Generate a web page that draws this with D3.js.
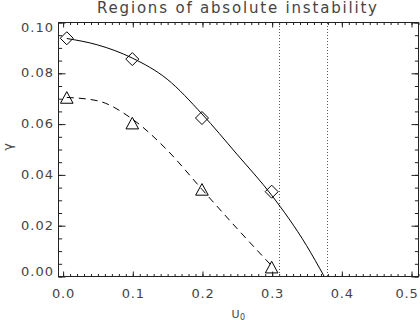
<!DOCTYPE html>
<html><head><meta charset="utf-8">
<script src="https://cdn.jsdelivr.net/npm/d3@7"></script>
<style>html,body{margin:0;padding:0;background:#fff;} svg{display:block;}</style>
</head><body>
<svg id="chart" width="420" height="320"></svg>
<script>
const title = "Regions of absolute instability";
const xLabel = "U";
const xLabelSub = "0";
const yLabel = "γ";
const xTicks = [0, 0.1, 0.2, 0.3, 0.4, 0.5];
const xTickLabels = ["0.0", "0.1", "0.2", "0.3", "0.4", "0.5"];
const yTicks = [0, 0.02, 0.04, 0.06, 0.08, 0.10];
const yTickLabels = ["0.00", "0.02", "0.04", "0.06", "0.08", "0.10"];
const diamondU = [0.006, 0.1, 0.2, 0.3];
const diamondG = [0.0936, 0.0854, 0.0622, 0.0332];
const triangleU = [0.006, 0.1, 0.2, 0.3];
const triangleG = [0.0703, 0.0602, 0.0341, 0.0035];
const solidU = [0.006, 0.05, 0.1, 0.15, 0.2, 0.25, 0.3, 0.35, 0.375];
const solidG = [0.0935, 0.0910, 0.0858, 0.0775, 0.0638, 0.0480, 0.0318, 0.0120, 0.0];
const dashedU = [0.006, 0.05, 0.1, 0.15, 0.2, 0.25, 0.3];
const dashedG = [0.0703, 0.0690, 0.0618, 0.0496, 0.0341, 0.0188, 0.0040];
const verticalU = [0.31, 0.38];

const svg = d3.select("#chart");
const L = 58, R = 418, T = 22, B = 276;
const x = d3.scaleLinear().domain([-0.0066, 0.51]).range([L, R]);
const y = d3.scaleLinear().domain([0, 0.10]).range([B, T]);
const font = "DejaVu Sans, sans-serif";
const txt = "#444";

// frame
svg.append("rect").attr("x", L + 0.5).attr("y", T + 0.5)
  .attr("width", R - L).attr("height", B - T)
  .attr("fill", "none").attr("stroke", "#222").attr("stroke-width", 1);

const xMinor = d3.range(0, 52).map(i => i / 100).filter(v => v <= 0.51);
const yMinor = d3.range(0, 21).map(i => i * 0.005);

function axisG(axis, tx, ty) {
  const g = svg.append("g").attr("transform", `translate(${tx},${ty})`).call(axis);
  g.select(".domain").remove();
  g.selectAll("text").remove();
  g.selectAll("line").attr("stroke", "#222");
  return g;
}
// bottom & top
axisG(d3.axisBottom(x).tickValues(xTicks).tickSize(-5), 0.5, B + 0.5);
axisG(d3.axisBottom(x).tickValues(xMinor).tickSize(-2.5), 0.5, B + 0.5);
axisG(d3.axisTop(x).tickValues(xTicks).tickSize(-5), 0.5, T + 0.5);
axisG(d3.axisTop(x).tickValues(xMinor).tickSize(-2.5), 0.5, T + 0.5);
// left & right
axisG(d3.axisLeft(y).tickValues(yTicks).tickSize(-7), L + 0.5, 0.5);
axisG(d3.axisLeft(y).tickValues(yMinor).tickSize(-3.6), L + 0.5, 0.5);
axisG(d3.axisRight(y).tickValues(yTicks).tickSize(-7), R + 0.5, 0.5);
axisG(d3.axisRight(y).tickValues(yMinor).tickSize(-3.6), R + 0.5, 0.5);

// tick labels
svg.append("g").selectAll("text").data(xTicks).join("text")
  .attr("x", d => Math.min(x(d) + 1, 407)).attr("y", 298)
  .attr("text-anchor", "middle")
  .attr("font-family", font).attr("font-size", 13).attr("letter-spacing", 0.8)
  .attr("fill", txt).text((d, i) => xTickLabels[i]);

svg.append("g").selectAll("text").data(yTicks).join("text")
  .attr("x", 54).attr("y", (d, i) => i === 0 ? B : (i === yTicks.length - 1 ? T + 9.5 : y(d) + 4.6))
  .attr("text-anchor", "end")
  .attr("font-family", font).attr("font-size", 13).attr("letter-spacing", 1)
  .attr("fill", txt).text((d, i) => yTickLabels[i]);

// title
svg.append("text").attr("x", 97).attr("y", 13)
  .attr("font-family", font).attr("font-size", 15)
  .attr("textLength", 280).attr("lengthAdjust", "spacing")
  .attr("fill", txt).text(title);

// axis titles
const xl = svg.append("text").attr("x", 231.5).attr("y", 318.3)
  .attr("font-family", font).attr("font-size", 11).attr("fill", txt);
xl.append("tspan").text(xLabel);
xl.append("tspan").attr("font-size", 8).attr("dy", 1.2).attr("dx", 0.5).text(xLabelSub);

svg.append("text").attr("transform", "translate(7,147) rotate(-90)")
  .attr("text-anchor", "middle").attr("dominant-baseline", "central")
  .attr("font-family", font).attr("font-size", 13).attr("fill", txt).text(yLabel);

// clip
svg.append("clipPath").attr("id", "clip").append("rect")
  .attr("x", L).attr("y", T).attr("width", R - L).attr("height", B - T);

// vertical dotted lines
svg.append("g").selectAll("line").data(verticalU).join("line")
  .attr("x1", d => Math.round(x(d)) + 0.5).attr("x2", d => Math.round(x(d)) + 0.5)
  .attr("y1", T + 1).attr("y2", B)
  .attr("stroke", "#555").attr("stroke-width", 1).attr("stroke-dasharray", "1,2");

const line = d3.line().x(d => x(d[0])).y(d => y(d[1])).curve(d3.curveMonotoneX);
svg.append("path").datum(solidU.map((u, i) => [u, solidG[i]]))
  .attr("d", line).attr("fill", "none").attr("stroke", "#000").attr("stroke-width", 1)
  .attr("clip-path", "url(#clip)");
svg.append("path").datum(dashedU.map((u, i) => [u, dashedG[i]]))
  .attr("d", line).attr("fill", "none").attr("stroke", "#000").attr("stroke-width", 1)
  .attr("stroke-dasharray", "7,5").attr("clip-path", "url(#clip)");

// markers
svg.append("g").selectAll("path").data(diamondU.map((u, i) => [u, diamondG[i]])).join("path")
  .attr("transform", d => `translate(${x(d[0])},${y(d[1])})`)
  .attr("d", "M0,-6.5L6.5,0L0,6.5L-6.5,0Z")
  .attr("fill", "none").attr("stroke", "#000").attr("stroke-width", 1);
svg.append("g").selectAll("path").data(triangleU.map((u, i) => [u, triangleG[i]])).join("path")
  .attr("transform", d => `translate(${x(d[0])},${y(d[1])})`)
  .attr("d", "M-6.3,5.8L0,-5.8L6.3,5.8Z")
  .attr("fill", "none").attr("stroke", "#000").attr("stroke-width", 1);
</script>
</body></html>
